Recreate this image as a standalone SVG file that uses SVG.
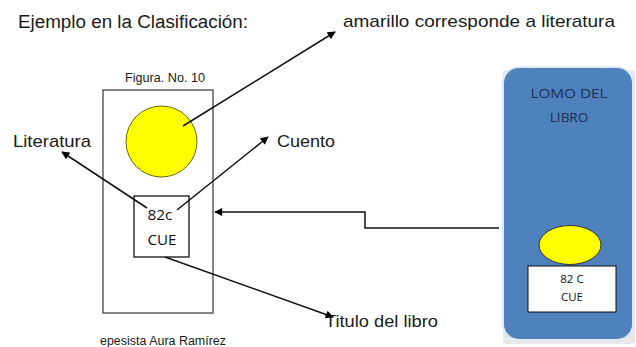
<svg xmlns="http://www.w3.org/2000/svg" width="636" height="347" viewBox="0 0 636 347">
<defs>
<marker id="ah" viewBox="0 0 10 10" refX="9" refY="5" markerWidth="9" markerHeight="8" markerUnits="userSpaceOnUse" orient="auto">
<path d="M0,0 L10,5 L0,10 z" fill="#000"/>
</marker>
</defs>
<style>
.t{font-family:"Liberation Sans",Arial,sans-serif;fill:#1a1a1a}
.c{font-family:"Open Sans","Liberation Sans",sans-serif;fill:#111}
.ln{fill:none;stroke:#111;stroke-width:1.5}
.lomo{fill:#1c2f52}
</style>
<rect width="636" height="347" fill="#fff"/>
<text class="t" x="18" y="28" font-size="18" textLength="230" lengthAdjust="spacingAndGlyphs">Ejemplo en la Clasificación:</text>
<text class="t" x="343" y="27" font-size="17" textLength="272" lengthAdjust="spacingAndGlyphs">amarillo corresponde a literatura</text>
<text class="t" x="13" y="147" font-size="17" textLength="78" lengthAdjust="spacingAndGlyphs">Literatura</text>
<text class="t" x="277" y="147" font-size="17" textLength="58" lengthAdjust="spacingAndGlyphs">Cuento</text>
<text class="t" x="325" y="327" font-size="17" textLength="113" lengthAdjust="spacingAndGlyphs">Titulo del libro</text>
<g id="libro">
<text class="t" x="125" y="82" font-size="12.5" textLength="80" lengthAdjust="spacingAndGlyphs">Figura. No. 10</text>
<rect x="103" y="90" width="110" height="223" fill="none" stroke="#444" stroke-width="1.3"/>
<text class="t" x="100" y="345" font-size="12.5" textLength="126" lengthAdjust="spacingAndGlyphs">epesista Aura Ramírez</text>
</g>
<g id="circulo">
<circle cx="161.5" cy="141.5" r="35.5" fill="#ffff00" stroke="#6b6b00" stroke-width="1"/>
</g>
<g id="etiqueta">
<rect x="134" y="196" width="55" height="61" fill="#fff" stroke="#111" stroke-width="1.3"/>
<text class="c" x="160" y="220" font-size="15" text-anchor="middle" textLength="25" lengthAdjust="spacingAndGlyphs">82c</text>
<text class="c" x="162" y="245" font-size="15" text-anchor="middle" textLength="29" lengthAdjust="spacingAndGlyphs">CUE</text>
</g>
<g id="lomo">
<rect x="503" y="70" width="132" height="274" rx="3" fill="#d8d8d8" opacity="0.6"/>
<rect x="503" y="67" width="130" height="273" rx="16" fill="#4f81bd" stroke="#dfe8f3" stroke-width="2"/>
<text class="c lomo" x="569" y="98" font-size="13.5" text-anchor="middle" textLength="77" lengthAdjust="spacingAndGlyphs">LOMO DEL</text>
<text class="c lomo" x="569" y="122" font-size="13.5" text-anchor="middle">LIBRO</text>
<ellipse cx="570" cy="245" rx="31" ry="19.5" fill="#ffff00" stroke="#333" stroke-width="1"/>
<rect x="528" y="266" width="88" height="46" fill="#fff" stroke="#111" stroke-width="1"/>
<text class="c" x="572" y="283" font-size="11.5" text-anchor="middle">82 C</text>
<text class="c" x="572" y="301" font-size="11.5" text-anchor="middle">CUE</text>
</g>
<g id="conectores">
<line class="ln" x1="183" y1="126" x2="335" y2="32" marker-end="url(#ah)"/>
<line class="ln" x1="147" y1="208" x2="62" y2="152" marker-end="url(#ah)"/>
<line class="ln" x1="177" y1="210" x2="268" y2="137" marker-end="url(#ah)"/>
<line class="ln" x1="165" y1="257" x2="333" y2="317" marker-end="url(#ah)"/>
<polyline class="ln" points="499,228 365,228 365,212 215,212" marker-end="url(#ah)"/>
</g>
</svg>
